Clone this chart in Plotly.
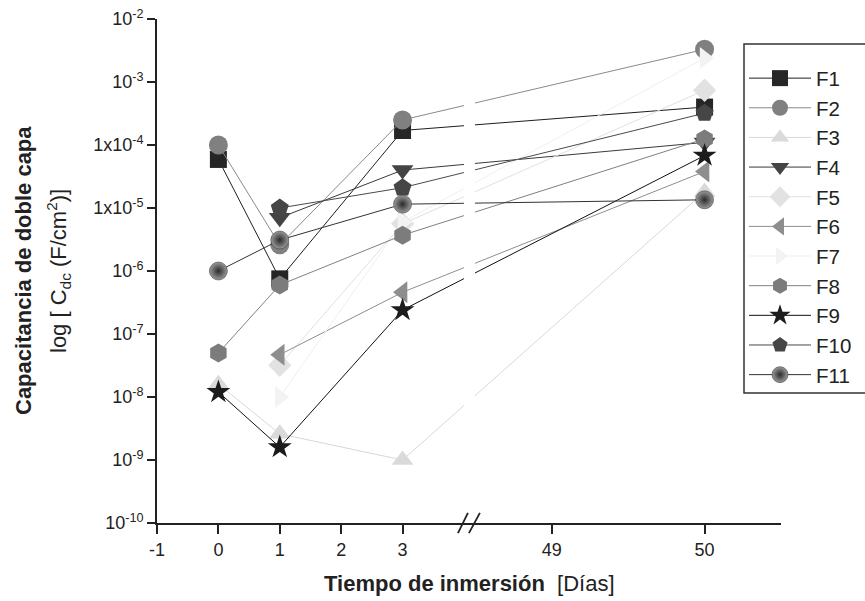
import plotly.graph_objects as go

# ---------------- data ----------------
days = [0, 1, 3, 50]
series_names = ["F1", "F2", "F3", "F4", "F5", "F6", "F7", "F8", "F9", "F10", "F11"]
F1 = [5.9e-5, 7.5e-7, 1.7e-4, 4.0e-4]
F2 = [1.0e-4, 2.6e-6, 2.5e-4, 3.3e-3]
F3 = [1.6e-8, 2.6e-9, 1.0e-9, 1.8e-5]
F4 = [None, 7.0e-6, 4.0e-5, 1.1e-4]
F5 = [None, 3.2e-8, 5.6e-6, 7.4e-4]
F6 = [None, 4.7e-8, 4.6e-7, 3.8e-5]
F7 = [None, 1.0e-8, 6.0e-6, 2.4e-3]
F8 = [5.0e-8, 6.0e-7, 3.7e-6, 1.25e-4]
F9 = [1.2e-8, 1.6e-9, 2.4e-7, 6.8e-5]
F10 = [None, 1.0e-5, 2.1e-5, 3.2e-4]
F11 = [1.0e-6, 3.1e-6, 1.15e-5, 1.35e-5]
values = [F1, F2, F3, F4, F5, F6, F7, F8, F9, F10, F11]

x_tick_days = [-1, 0, 1, 2, 3, 49, 50]
y_tick_vals = [1e-2, 1e-3, 1e-4, 1e-5, 1e-6, 1e-7, 1e-8, 1e-9, 1e-10]
y_tick_text = ["10<sup>-2</sup>", "10<sup>-3</sup>", "1x10<sup>-4</sup>", "1x10<sup>-5</sup>",
               "10<sup>-6</sup>", "10<sup>-7</sup>", "10<sup>-8</sup>", "10<sup>-9</sup>",
               "10<sup>-10</sup>"]
decades = [-10, -9, -8, -7, -6, -5, -4, -3]
minor_mult = [2, 3, 4, 5, 6, 7, 8, 9]

# ---------------- styles ----------------
symbols = ["square", "circle", "triangle-up", "triangle-down", "diamond", "triangle-left",
           "triangle-right", "hexagon", "star", "pentagon", "circle"]
mcolors = ["#262626", "#808080", "#dadada", "#444444", "#e2e2e2", "#8e8e8e",
           "#f3f3f3", "#7c7c7c", "#1c1c1c", "#464646", "#9a9a9a"]
lcolors = ["#1e1e1e", "#8a8a8a", "#d8d8d8", "#3a3a3a", "#e0e0e0", "#8e8e8e",
           "#efefef", "#808080", "#111111", "#4a4a4a", "#333333"]
msizes = [17, 19, 19, 19, 18, 19, 19, 19, 18, 19, 18]

# broken axis: days 0..3 linear, then 49 and 50 on a second segment
SEG1_END = 3.5
P49 = 5.43
SEG2_SCALE = 2.49
PX_PER_UNIT = 61.5


def xpos(d):
    return d if d <= SEG1_END else P49 + (d - 49) * SEG2_SCALE


FONT = "Liberation Sans, Arial, sans-serif"
TXT = "#222222"

# plot area geometry (pixels)
L, R, T, B = 157, 781, 19, 523
W, H = R - L, B - T
Y_LO, Y_HI = -10, -2


def px_x(p):
    return (p - L) / W


def px_y(p):
    return (B - p) / H


fig = go.Figure()
for name, vals, sym, mc, lc, ms in zip(series_names, values, symbols, mcolors, lcolors, msizes):
    xs = [xpos(d) for d, v in zip(days, vals) if v is not None]
    ys = [v for v in vals if v is not None]
    marker = dict(symbol=sym, size=ms, color=mc, line=dict(width=0))
    if name == "F11":
        marker["gradient"] = dict(type="radial", color="#2a2a2a")
        marker["line"] = dict(width=0.5, color="#2a2a2a")
    fig.add_trace(go.Scatter(x=xs, y=ys, mode="lines+markers", name=name,
                             line=dict(color=lc, width=1), marker=marker))

x_lo = xpos(-1)
x_hi = xpos(50.5)

# minor log tick marks (2..9 of each decade), drawn just outside the y axis line
minor_y = [m * 10.0 ** e for e in decades for m in minor_mult]
minor_x = x_lo - 3.5 / PX_PER_UNIT
fig.add_trace(go.Scatter(x=[minor_x] * len(minor_y), y=minor_y, mode="markers",
                         marker=dict(symbol="line-ew", size=7, color="#222",
                                     line=dict(color="#222", width=1.5)),
                         cliponaxis=False, showlegend=False, hoverinfo="skip"))

fig.update_layout(
    width=865, height=601,
    margin=dict(l=L, r=865 - R, t=T, b=601 - B, autoexpand=False),
    paper_bgcolor="white", plot_bgcolor="white",
    font=dict(family=FONT, color=TXT, size=18),
    showlegend=True,
    legend=dict(x=px_x(744), xanchor="left", y=px_y(44), yanchor="top",
                borderwidth=0, bgcolor="rgba(0,0,0,0)",
                font=dict(size=20.5, family=FONT, color=TXT), itemwidth=62,
                title=dict(text=" ", font=dict(size=11)),
                tracegroupgap=0),
)

fig.update_xaxes(range=[x_lo, x_hi], tickmode="array",
                 tickvals=[xpos(d) for d in x_tick_days],
                 ticktext=[str(d) for d in x_tick_days],
                 showline=True, linecolor="#222", linewidth=2, ticks="outside",
                 ticklen=9, tickwidth=2, tickcolor="#222", showgrid=False, zeroline=False,
                 tickfont=dict(size=18, family=FONT, color=TXT))
fig.update_yaxes(type="log", range=[Y_LO, Y_HI], tickmode="array", tickvals=y_tick_vals,
                 ticktext=y_tick_text, showline=True, linecolor="#222", linewidth=2,
                 ticks="outside", ticklen=8, tickwidth=2, tickcolor="#222",
                 showgrid=False, zeroline=False,
                 tickfont=dict(size=18, family=FONT, color=TXT))

# legend frame (extends past the right edge of the picture)
fig.add_shape(type="rect", xref="paper", yref="paper", x0=px_x(744), x1=px_x(900),
              y0=px_y(393), y1=px_y(44), line=dict(color="#333", width=1.5),
              fillcolor="white", layer="below")

# axis break: white gap through the data lines and the // mark on the x axis
gap_l = (464 - 218) / PX_PER_UNIT
gap_r = (475 - 218) / PX_PER_UNIT
fig.add_shape(type="rect", xref="x", yref="paper", x0=gap_l, x1=gap_r, y0=0.012, y1=1.0,
              fillcolor="white", line=dict(width=0), layer="above")
for a, b in [(458, 468), (469, 480)]:
    fig.add_shape(type="line", xref="x", yref="paper",
                  x0=(a - 218) / PX_PER_UNIT, x1=(b - 218) / PX_PER_UNIT, y0=-0.02, y1=0.02,
                  line=dict(color="#222", width=1.8), layer="above")

# axis titles
fig.add_annotation(text="<b>Tiempo de inmersión</b>  [Días]", xref="paper", yref="paper",
                   x=0.5, y=px_y(583), xanchor="center", yanchor="middle",
                   showarrow=False, font=dict(size=22, family=FONT, color=TXT))
fig.add_annotation(text="<b>Capacitancia de doble capa</b>", xref="paper", yref="paper",
                   x=px_x(23), y=0.5, textangle=-90, xanchor="center", yanchor="middle",
                   showarrow=False, font=dict(size=22, family=FONT, color=TXT))
fig.add_annotation(text="log [ C<sub>dc</sub> (F/cm<sup>2</sup>)]", xref="paper", yref="paper",
                   x=px_x(58), y=0.5, textangle=-90, xanchor="center", yanchor="middle",
                   showarrow=False, font=dict(size=22, family=FONT, color=TXT))

fig.write_html("out.html")
